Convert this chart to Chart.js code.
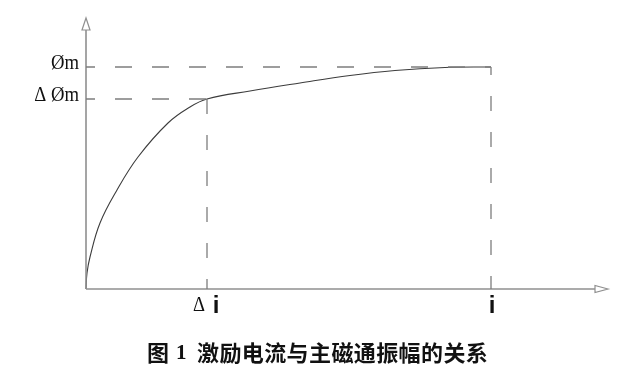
<!DOCTYPE html>
<html>
<head>
<meta charset="utf-8">
<script src="https://cdn.jsdelivr.net/npm/chart.js@4/dist/chart.umd.min.js"></script>
<style>
  html, body { margin: 0; padding: 0; background: #fff; }
  canvas { display: block; }
</style>
</head>
<body>
<canvas id="fluxChart" width="626" height="377"></canvas>
<script>
// Excitation current vs. main flux amplitude (magnetisation curve sketch)

// curve (arbitrary units)
const curveX = [0, 1, 4, 14, 31, 52, 82, 104, 121, 164, 214, 264, 309, 359, 405];
const curveY = [0, 16, 32, 66, 99, 132, 166, 182, 190, 198, 206, 213.5, 218.5, 221.5, 222];

// marked values on the axes
const xMarks = [121, 405];          // Δi, i
const xMarkLabels = ['Δ', 'i'];
const yMarks = [222, 190];          // Øm, ΔØm
const yMarkLabels = ['Øm', 'Δ Øm'];

// axis extents
const xAxisEnd = [509, 522];        // line end, arrow tip
const yAxisEnd = [259, 271];

const caption = ['图', '1', '激励电流与主磁通振幅的关系'];

const axisColor = '#8f8f8f';
const guideColor = '#7d7d7d';
const curveColor = '#3c3c3c';

const pts = (xs, ys) => xs.map((v, i) => ({ x: v, y: ys[i] }));

const decorPlugin = {
    id: 'decor',
    afterDatasetsDraw(chart) {
        const { ctx, scales: { x, y } } = chart;
        const x0 = x.getPixelForValue(0);
        const y0 = y.getPixelForValue(0);
        ctx.save();

        // open arrow heads
        ctx.strokeStyle = axisColor;
        ctx.fillStyle = '#fff';
        ctx.lineWidth = 1.2;
        let tip = y.getPixelForValue(yAxisEnd[1]);
        let base = y.getPixelForValue(yAxisEnd[0]);
        ctx.beginPath();
        ctx.moveTo(x0, tip);
        ctx.lineTo(x0 - 4, base);
        ctx.lineTo(x0 + 4, base);
        ctx.closePath();
        ctx.fill();
        ctx.stroke();

        tip = x.getPixelForValue(xAxisEnd[1]);
        base = x.getPixelForValue(xAxisEnd[0]);
        ctx.beginPath();
        ctx.moveTo(tip, y0);
        ctx.lineTo(base, y0 - 3.5);
        ctx.lineTo(base, y0 + 3.5);
        ctx.closePath();
        ctx.fill();
        ctx.stroke();

        // y labels (condensed serif)
        ctx.fillStyle = '#111';
        ctx.font = '22px "Liberation Serif"';
        ctx.textAlign = 'right';
        ctx.textBaseline = 'alphabetic';
        yMarks.forEach((v, i) => {
            ctx.save();
            ctx.translate(x0 - 7, y.getPixelForValue(v) + 2);
            ctx.scale(0.85, 1);
            ctx.fillText(yMarkLabels[i], 0, 0);
            ctx.restore();
        });

        // x labels
        const dx = x.getPixelForValue(xMarks[0]);
        ctx.save();
        ctx.translate(dx - 8, y0 + 22);
        ctx.scale(0.85, 1);
        ctx.textAlign = 'center';
        ctx.fillText(xMarkLabels[0], 0, 0);
        ctx.restore();

        ctx.font = 'bold 24px "Liberation Sans"';
        ctx.textAlign = 'center';
        ctx.fillText(xMarkLabels[1], dx + 9, y0 + 24);
        ctx.fillText(xMarkLabels[1], x.getPixelForValue(xMarks[1]) + 1, y0 + 24);

        // caption
        ctx.textAlign = 'left';
        ctx.textBaseline = 'middle';
        ctx.font = 'bold 22px "Noto Sans CJK SC"';
        ctx.fillText(caption[0], 147, 353);
        ctx.font = 'bold 21px "Liberation Serif"';
        ctx.fillText(caption[1], 176, 354);
        ctx.font = 'bold 22px "Noto Sans CJK SC"';
        ctx.letterSpacing = '0.4px';
        ctx.fillText(caption[2], 197, 353);

        ctx.restore();
    }
};

const guideBase = {
    borderColor: guideColor,
    borderWidth: 1.3,
    pointRadius: 0,
    fill: false,
    tension: 0
};

new Chart(document.getElementById('fluxChart'), {
    type: 'line',
    data: {
        datasets: [
            // horizontal guides from the y axis
            { ...guideBase, data: pts([0, xMarks[1]], [yMarks[0], yMarks[0]]), borderDash: [17, 20], borderDashOffset: 8 },
            { ...guideBase, data: pts([0, xMarks[0]], [yMarks[1], yMarks[1]]), borderDash: [17, 20], borderDashOffset: 8 },
            // vertical guides down to the x axis
            { ...guideBase, data: pts([xMarks[0], xMarks[0]], [yMarks[1], 0]), borderDash: [15, 21], borderDashOffset: 0 },
            { ...guideBase, data: pts([xMarks[1], xMarks[1]], [yMarks[0], 0]), borderDash: [15, 21], borderDashOffset: 7 },
            // axes
            { data: pts([0, xAxisEnd[0]], [0, 0]), borderColor: axisColor, borderWidth: 1.6, pointRadius: 0 },
            { data: pts([0, 0], [0, yAxisEnd[0]]), borderColor: axisColor, borderWidth: 1.6, pointRadius: 0 },
            // the curve
            {
                data: pts(curveX, curveY),
                borderColor: curveColor,
                borderWidth: 1.1,
                pointRadius: 0,
                tension: 0.4
            }
        ]
    },
    options: {
        responsive: false,
        animation: false,
        devicePixelRatio: 1,
        layout: { padding: { left: 86, right: 18, top: 18, bottom: 88 } },
        clip: false,
        scales: {
            x: { type: 'linear', display: false, min: 0, max: xAxisEnd[1] },
            y: { type: 'linear', display: false, min: 0, max: yAxisEnd[1] }
        },
        plugins: {
            legend: { display: false },
            tooltip: { enabled: false }
        }
    },
    plugins: [decorPlugin]
});
</script>
</body>
</html>
